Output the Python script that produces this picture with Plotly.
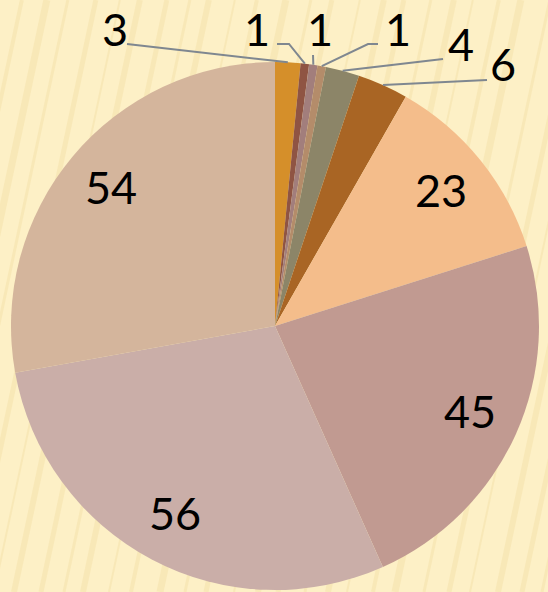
import math
import plotly.graph_objects as go

# Slice data, clockwise from 12 o'clock
categories = ["S1", "S2", "S3", "S4", "S5", "S6", "S7", "S8", "S9", "S10"]
values = [3, 1, 1, 1, 4, 6, 23, 45, 56, 54]
colors = ["#D58F2A", "#8F5443", "#A27E7C", "#B48C6A", "#8C8568",
          "#A96524", "#F4BD8B", "#C19A91", "#CAAEA8", "#D4B59C"]

W, H = 548, 592
CX, CY, R = 275, 326, 264          # pie centre / radius in pixels
FONT = dict(family="Lato", size=45, color="#000000")
LINE_COLOR = "#7F8790"

# Slices whose label sits outside, with label position and leader-line start (px)
outside = {
    0: dict(label=(115, 29), path=[(127, 44)]),
    1: dict(label=(257, 29), path=[(277, 44), (289, 44)]),
    2: dict(label=(320, 29), path=[(313, 55)]),
    3: dict(label=(398, 29), path=[(378, 44), (368, 44)]),
    4: dict(label=(461, 44), path=[(443, 59)]),
    5: dict(label=(503, 64), path=[(487, 80)]),
}
INSIDE_FRAC = 0.81


def px(x, y):
    return x / W, 1 - y / H


fig = go.Figure(go.Pie(
    labels=categories, values=values, sort=False, direction="clockwise",
    rotation=0, marker=dict(colors=colors, line=dict(width=0)),
    textinfo="none", hoverinfo="skip", showlegend=False,
    domain=dict(x=[(CX - R) / W, (CX + R) / W],
                y=[(H - CY - R) / H, (H - CY + R) / H]),
))

# Background stripes
shapes = []
tilt = math.radians(12)
stripe_w = [5, 3, 6, 2, 4, 7, 3, 5, 2, 6]
x = -200
k = 0
while x < W + 50:
    x0p, y0p = px(x, H)
    x1p, y1p = px(x + H * math.tan(tilt), 0)
    shapes.append(dict(type="line", xref="paper", yref="paper",
                       x0=x0p, y0=y0p, x1=x1p, y1=y1p, layer="below",
                       line=dict(color="rgba(232,205,130,0.22)",
                                 width=stripe_w[k % len(stripe_w)])))
    x += 19 + (k * 7) % 11
    k += 1

annotations = []
total = sum(values)
cum = 0
for i, v in enumerate(values):
    mid = (cum + v / 2) / total * 2 * math.pi
    cum += v
    if i in outside:
        ex, ey = CX + R * math.sin(mid), CY - R * math.cos(mid)
        pts = outside[i]["path"] + [(ex, ey)]
        d = "M " + " L ".join("{:.5f},{:.5f}".format(*px(a, b)) for a, b in pts)
        shapes.append(dict(type="path", xref="paper", yref="paper", path=d,
                           line=dict(color=LINE_COLOR, width=2), layer="above"))
        lx, ly = outside[i]["label"]
    else:
        lx = CX + INSIDE_FRAC * R * math.sin(mid)
        ly = CY - INSIDE_FRAC * R * math.cos(mid) - 2
    ax_, ay_ = px(lx, ly)
    annotations.append(dict(x=ax_, y=ay_, xref="paper", yref="paper",
                            text=str(v), showarrow=False, font=FONT,
                            xanchor="center", yanchor="middle"))

fig.update_layout(
    width=W, height=H, margin=dict(l=0, r=0, t=0, b=0),
    paper_bgcolor="#FDF0C6", plot_bgcolor="#FDF0C6",
    shapes=shapes, annotations=annotations,
)

fig.write_html("out.html")
